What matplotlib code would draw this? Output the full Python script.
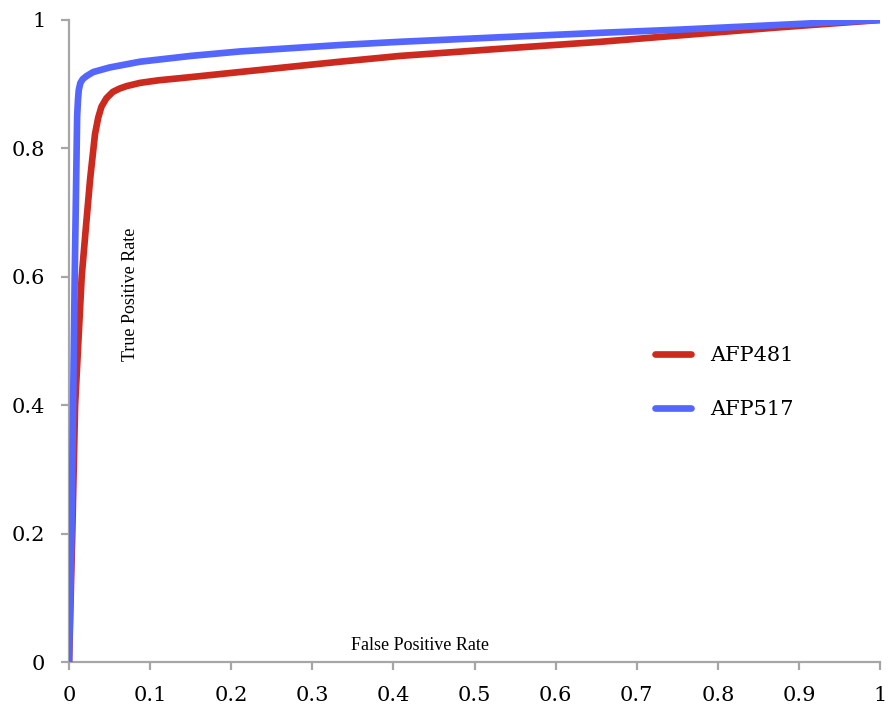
import matplotlib
matplotlib.use("Agg")
import matplotlib.pyplot as plt

# ROC points
fpr_481 = [0, 0.004, 0.0075, 0.0156, 0.021, 0.026, 0.032, 0.036, 0.040, 0.046,
           0.054, 0.062, 0.071, 0.0875, 0.11, 0.15, 0.211, 0.334, 0.408, 0.53,
           0.655, 0.753, 0.87, 1.0]
tpr_481 = [0, 0.2, 0.4, 0.6, 0.68, 0.752, 0.822, 0.848, 0.865, 0.878,
           0.888, 0.893, 0.897, 0.902, 0.906, 0.911, 0.919, 0.935, 0.944, 0.955,
           0.966, 0.976, 0.988, 1.0]

fpr_517 = [0, 0.003, 0.005, 0.007, 0.0088, 0.010, 0.011, 0.012, 0.014, 0.017,
           0.022, 0.03, 0.05, 0.0875, 0.15, 0.211, 0.334, 0.408, 0.53, 0.655,
           0.753, 0.87, 1.0]
tpr_517 = [0, 0.2, 0.4, 0.6, 0.75, 0.85, 0.875, 0.891, 0.902, 0.908,
           0.913, 0.919, 0.926, 0.935, 0.944, 0.951, 0.961, 0.966, 0.973, 0.980,
           0.985, 0.992, 1.0]

x_ticks = [0, 0.1, 0.2, 0.3, 0.4, 0.5, 0.6, 0.7, 0.8, 0.9, 1]
x_tick_labels = ["0", "0.1", "0.2", "0.3", "0.4", "0.5", "0.6", "0.7", "0.8", "0.9", "1"]
y_ticks = [0, 0.2, 0.4, 0.6, 0.8, 1]
y_tick_labels = ["0", "0.2", "0.4", "0.6", "0.8", "1"]

RED = "#cc2a1f"
BLUE = "#5566ff"
SPINE = "#a6a6a6"

fig = plt.figure(figsize=(8.93, 7.06), dpi=100)
ax = fig.add_axes([0.0773, 0.0623, 0.9082, 0.9094])

ax.plot(fpr_481, tpr_481, color=RED, linewidth=4.8, label="AFP481",
        solid_capstyle="round", solid_joinstyle="round", zorder=3)
ax.plot(fpr_517, tpr_517, color=BLUE, linewidth=4.8, label="AFP517",
        solid_capstyle="round", solid_joinstyle="round", zorder=3)

ax.set_xlim(0, 1)
ax.set_ylim(0, 1)
ax.set_xticks(x_ticks)
ax.set_xticklabels(x_tick_labels)
ax.set_yticks(y_ticks)
ax.set_yticklabels(y_tick_labels)

for side in ("top", "right"):
    ax.spines[side].set_visible(False)
for side in ("left", "bottom"):
    ax.spines[side].set_color(SPINE)
    ax.spines[side].set_linewidth(1.6)

ax.tick_params(axis="both", direction="out", length=6, width=1.6, color=SPINE,
               labelsize=15, pad=11)
for lbl in ax.get_xticklabels() + ax.get_yticklabels():
    lbl.set_fontfamily("DejaVu Serif")

ax.text(0.433, 0.026, "False Positive Rate", ha="center", va="center",
        fontsize=13, family="Liberation Serif", transform=ax.transAxes)
ax.text(0.0755, 0.573, "True Positive Rate", ha="center", va="center",
        rotation=90, fontsize=13, family="Liberation Serif",
        transform=ax.transAxes)

leg = ax.legend(loc="center left", bbox_to_anchor=(0.70, 0.435), frameon=False,
                prop={"family": "DejaVu Serif", "size": 15},
                handlelength=1.7, handletextpad=0.9, labelspacing=1.7)

fig.savefig("out.png", dpi=100)
